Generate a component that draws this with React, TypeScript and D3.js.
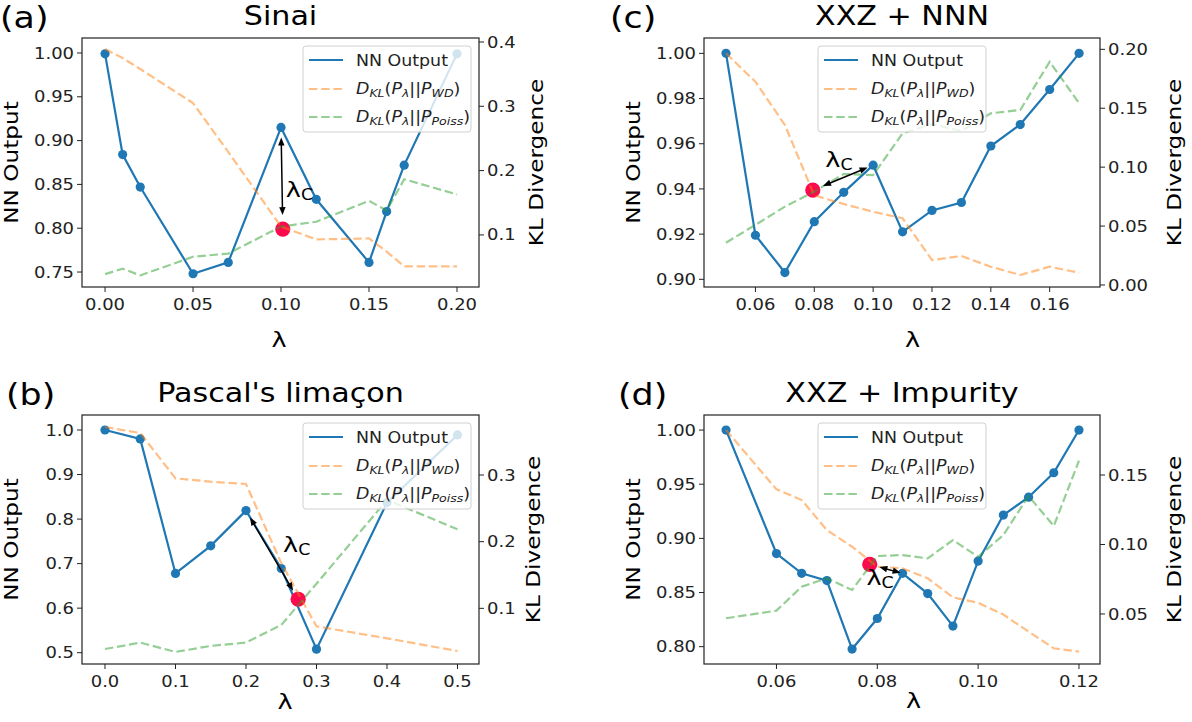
import React from 'react';
import * as d3 from 'd3';

// (a) Sinai
const sinaiLambda = [0, 0.01, 0.02, 0.05, 0.07, 0.1, 0.12, 0.15, 0.16, 0.17, 0.2];
const sinaiNN = [0.999, 0.884, 0.847, 0.748, 0.761, 0.915, 0.833, 0.761, 0.819, 0.872, 0.999];
const sinaiKLWD = [0.389, 0.375, 0.358, 0.305, 0.229, 0.113, 0.093, 0.0945, 0.074, 0.051, 0.051];
const sinaiKLPoiss = [0.039, 0.0475, 0.037, 0.066, 0.071, 0.113, 0.1205, 0.153, 0.138, 0.1865, 0.163];
const sinaiCritical = [0.101, 0.799];

// (b) Pascal's limaçon
const limaconLambda = [0, 0.05, 0.1, 0.15, 0.2, 0.25, 0.3, 0.4, 0.5];
const limaconNN = [1.0, 0.98, 0.678, 0.74, 0.819, 0.689, 0.508, 0.837, 0.989];
const limaconKLWD = [0.372, 0.363, 0.295, 0.29, 0.2865, 0.168, 0.073, 0.055, 0.036];
const limaconKLPoiss = [0.039, 0.0486, 0.0346, 0.0436, 0.0486, 0.075, 0.137, 0.2625, 0.2186];
const limaconCritical = [0.274, 0.62];

// (c) XXZ + NNN
const nnnLambda = [0.05, 0.06, 0.07, 0.08, 0.09, 0.1, 0.11, 0.12, 0.13, 0.14, 0.15, 0.16, 0.17];
const nnnNN = [1.0, 0.9195, 0.903, 0.9255, 0.9385, 0.9505, 0.921, 0.9305, 0.934, 0.959, 0.9685, 0.984, 1.0];
const nnnKLWD = [0.1966, 0.1725, 0.1358, 0.076, 0.0687, 0.0622, 0.0566, 0.0212, 0.0246, 0.0155, 0.0085, 0.0155, 0.0104];
const nnnKLPoiss = [0.0359, 0.051, 0.0665, 0.0792, 0.0942, 0.0933, 0.1287, 0.1366, 0.1307, 0.1457, 0.1485, 0.1895, 0.1542];
const nnnCritical = [0.0795, 0.9395];

// (d) XXZ + Impurity
const impLambda = [0.05, 0.06, 0.065, 0.07, 0.075, 0.08, 0.085, 0.09, 0.095, 0.1, 0.105, 0.11, 0.115, 0.12];
const impNN = [1.0, 0.886, 0.8677, 0.861, 0.7978, 0.826, 0.8677, 0.849, 0.819, 0.879, 0.9215, 0.938, 0.9606, 1.0];
const impKLWD = [0.1824, 0.1397, 0.132, 0.1104, 0.0984, 0.084, 0.0829, 0.0757, 0.062, 0.058, 0.0496, 0.0373, 0.0253, 0.0229];
const impKLPoiss = [0.0469, 0.0524, 0.0696, 0.0757, 0.0673, 0.0917, 0.0924, 0.09, 0.1032, 0.0912, 0.1068, 0.1349, 0.1133, 0.1603];
const impCritical = [0.0785, 0.876];

// tick values
const sinaiXTicks = [0, 0.05, 0.1, 0.15, 0.2];
const sinaiYTicks = [0.75, 0.8, 0.85, 0.9, 0.95, 1.0];
const sinaiY2Ticks = [0.1, 0.2, 0.3, 0.4];
const limaconXTicks = [0, 0.1, 0.2, 0.3, 0.4, 0.5];
const limaconYTicks = [0.5, 0.6, 0.7, 0.8, 0.9, 1.0];
const limaconY2Ticks = [0.1, 0.2, 0.3];
const nnnXTicks = [0.06, 0.08, 0.1, 0.12, 0.14, 0.16];
const nnnYTicks = [0.9, 0.92, 0.94, 0.96, 0.98, 1.0];
const nnnY2Ticks = [0, 0.05, 0.1, 0.15, 0.2];
const impXTicks = [0.06, 0.08, 0.1, 0.12];
const impYTicks = [0.8, 0.85, 0.9, 0.95, 1.0];
const impY2Ticks = [0.05, 0.1, 0.15];

const FONT = "'DejaVu Sans', sans-serif";
const SX = 1.16;
const BLUE = '#1f77b4';
const ORANGE = '#ff7f0e';
const GREEN = '#2ca02c';
const RED = '#fb0a4e';
const INK = '#222';
const DASH = '8.5,3.7';

function T({ x, y, size, anchor = 'start', rotate = 0, fill = '#000', children }: any) {
  return (
    <text
      transform={`translate(${x},${y}) rotate(${rotate}) scale(${SX},1)`}
      fontSize={size}
      textAnchor={anchor}
      fill={fill}
      fontFamily={FONT}
    >
      {children}
    </text>
  );
}

function KLLabel({ x, y, sub }: any) {
  const fs = 15;
  const ss = 10.8;
  return (
    <text transform={`translate(${x},${y}) scale(${SX},1)`} fontSize={fs} fontFamily={FONT} fill="#222">
      <tspan fontStyle="italic">D</tspan>
      <tspan fontStyle="italic" fontSize={ss} dy={3}>KL</tspan>
      <tspan dy={-3}>(</tspan>
      <tspan fontStyle="italic">P</tspan>
      <tspan fontStyle="italic" fontSize={ss} dy={3}>λ</tspan>
      <tspan dy={-3}>||</tspan>
      <tspan fontStyle="italic">P</tspan>
      <tspan fontStyle="italic" fontSize={ss} dy={3}>{sub}</tspan>
      <tspan dy={-3}>)</tspan>
    </text>
  );
}

function Panel(p: any) {
  const { left, top, width, height } = p;
  const x = d3.scaleLinear().domain(p.xDomain).range([left, left + width]);
  const y = d3.scaleLinear().domain(p.yDomain).range([top + height, top]);
  const y2 = d3.scaleLinear().domain(p.y2Domain).range([top + height, top]);
  const nnPath = d3.line<number>().x((_, i) => x(p.lambda[i])).y((d) => y(d))(p.nn) || '';
  const klPath = (vals: number[]) =>
    d3.line<number>().x((_, i) => x(p.lambda[i])).y((d) => y2(d))(vals) || '';
  const fx = d3.format(p.xFmt);
  const fy = d3.format(p.yFmt);
  const fy2 = d3.format(p.y2Fmt);
  const bottom = top + height;
  const right = left + width;
  const tick = 5;
  const tfs = 15.5;

  // double-headed arrow between the critical point and the chosen NN point
  const ax = x(p.critical[0]);
  const ay = y(p.critical[1]);
  const bx = x(p.lambda[p.arrowTo]);
  const by = y(p.nn[p.arrowTo]);
  const dist = Math.hypot(bx - ax, by - ay);
  const ux = (bx - ax) / dist;
  const uy = (by - ay) / dist;
  const s = [ax + ux * p.shrink[0], ay + uy * p.shrink[0]];
  const e = [bx - ux * p.shrink[1], by - uy * p.shrink[1]];
  const hl = 8;
  const hw = 3.2;
  const head = (tip: number[], dx: number, dy: number) => {
    const bxp = tip[0] - dx * hl;
    const byp = tip[1] - dy * hl;
    return `M${tip[0]},${tip[1]} L${bxp - dy * hw},${byp + dx * hw} L${bxp + dy * hw},${byp - dx * hw} Z`;
  };
  const mid = [(s[0] + e[0]) / 2, (s[1] + e[1]) / 2];

  // legend box
  const lw = 168;
  const lh = 86;
  const lx = p.legendPos === 'center' ? left + width / 2 - lw / 2 : right - 8 - lw;
  const ly = top + 8;

  return (
    <g>
      {/* titles */}
      <T x={p.letterX} y={p.letterY} size={30}>{p.letter}</T>
      <T x={left + width / 2} y={p.titleY} size={26} anchor="middle">{p.title}</T>

      {/* NN output */}
      <path d={nnPath} fill="none" stroke={BLUE} strokeWidth={2.2} />
      {p.nn.map((d: number, i: number) => (
        <circle key={i} cx={x(p.lambda[i])} cy={y(d)} r={4.6} fill={BLUE} />
      ))}
      <circle cx={ax} cy={ay} r={7.6} fill={RED} />

      {/* KL divergences on the twin axis */}
      <path d={klPath(p.klWD)} fill="none" stroke={ORANGE} strokeOpacity={0.5} strokeWidth={2.2} strokeDasharray={DASH} />
      <path d={klPath(p.klPoiss)} fill="none" stroke={GREEN} strokeOpacity={0.5} strokeWidth={2.2} strokeDasharray={DASH} />

      {/* lambda_c marker */}
      <line x1={s[0] + ux * hl * 0.8} y1={s[1] + uy * hl * 0.8} x2={e[0] - ux * hl * 0.8} y2={e[1] - uy * hl * 0.8} stroke="#000" strokeWidth={1.5} />
      <path d={head(e, ux, uy)} fill="#000" />
      <path d={head(s, -ux, -uy)} fill="#000" />
      <text
        transform={`translate(${mid[0] + p.labelOffset[0]},${mid[1] + p.labelOffset[1]}) scale(${SX},1)`}
        fontFamily={FONT}
        fontSize={22}
      >
        λ<tspan fontSize={15} dy={3}>C</tspan>
      </text>

      {/* frame */}
      <rect x={left} y={top} width={width} height={height} fill="none" stroke={INK} strokeWidth={1.2} />

      {/* x axis */}
      {p.xTicks.map((t: number) => (
        <g key={'x' + t}>
          <line x1={x(t)} x2={x(t)} y1={bottom} y2={bottom + tick} stroke={INK} />
          <T x={x(t)} y={bottom + 23} size={tfs} anchor="middle" fill={INK}>{fx(t)}</T>
        </g>
      ))}
      <T x={left + width / 2 + p.xLabelShift} y={bottom + p.xLabelGap} size={22}>λ</T>

      {/* left axis */}
      {p.yTicks.map((t: number) => (
        <g key={'y' + t}>
          <line x1={left - tick} x2={left} y1={y(t)} y2={y(t)} stroke={INK} />
          <T x={left - 8} y={y(t) + tfs * 0.36} size={tfs} anchor="end" fill={INK}>{fy(t)}</T>
        </g>
      ))}
      <T x={left - 64} y={top + height / 2} size={20} anchor="middle" rotate={-90}>NN Output</T>

      {/* right axis */}
      {p.y2Ticks.map((t: number) => (
        <g key={'y2' + t}>
          <line x1={right} x2={right + tick} y1={y2(t)} y2={y2(t)} stroke={INK} />
          <T x={right + 8} y={y2(t) + tfs * 0.36} size={tfs} fill={INK}>{fy2(t)}</T>
        </g>
      ))}
      <T x={right + p.y2LabelGap} y={top + height / 2} size={20} anchor="middle" rotate={-90}>KL Divergence</T>

      {/* legend */}
      <rect x={lx} y={ly} width={lw} height={lh} rx={3} fill="#fff" fillOpacity={0.8} stroke="#d0d0d0" strokeWidth={1} />
      <line x1={lx + 6} x2={lx + 40} y1={ly + 14} y2={ly + 14} stroke={BLUE} strokeWidth={2.2} />
      <T x={lx + 53} y={ly + 19.5} size={15} fill="#222">NN Output</T>
      <line x1={lx + 6} x2={lx + 40} y1={ly + 43} y2={ly + 43} stroke={ORANGE} strokeOpacity={0.5} strokeWidth={2.2} strokeDasharray={DASH} />
      <KLLabel x={lx + 53} y={ly + 47.5} sub="WD" />
      <line x1={lx + 6} x2={lx + 40} y1={ly + 71} y2={ly + 71} stroke={GREEN} strokeOpacity={0.5} strokeWidth={2.2} strokeDasharray={DASH} />
      <KLLabel x={lx + 53} y={ly + 75.5} sub="Poiss" />
    </g>
  );
}

export default function App() {
  return (
    <svg
      width={1192}
      height={722}
      style={{ position: 'absolute', left: 0, top: 0, background: '#fff' }}
    >
      <Panel
        left={82} top={38} width={397} height={249}
        xDomain={[-0.0131, 0.2125]} yDomain={[0.7329, 1.0171]} y2Domain={[0.019, 0.4062]}
        lambda={sinaiLambda} nn={sinaiNN} klWD={sinaiKLWD} klPoiss={sinaiKLPoiss}
        critical={sinaiCritical} arrowTo={5} shrink={[14, 10]} labelOffset={[4, 20.5]}
        xTicks={sinaiXTicks} xFmt=".2f" yTicks={sinaiYTicks} yFmt=".2f" y2Ticks={sinaiY2Ticks} y2Fmt=".1f"
        title="Sinai" titleY={25} letter="(a)" letterX={0} letterY={27.5}
        legendPos="right" xLabelShift={-9} xLabelGap={60} y2LabelGap={64}
      />
      <Panel
        left={82} top={415} width={397} height={249}
        xDomain={[-0.0326, 0.5305]} yDomain={[0.4746, 1.0337]} y2Domain={[0.0165, 0.39]}
        lambda={limaconLambda} nn={limaconNN} klWD={limaconKLWD} klPoiss={limaconKLPoiss}
        critical={limaconCritical} arrowTo={4} shrink={[10, 8]} labelOffset={[11.5, -2.3]}
        xTicks={limaconXTicks} xFmt=".1f" yTicks={limaconYTicks} yFmt=".1f" y2Ticks={limaconY2Ticks} y2Fmt=".1f"
        title="Pascal's limaçon" titleY={402} letter="(b)" letterX={6} letterY={405}
        legendPos="right" xLabelShift={-3} xLabelGap={45} y2LabelGap={61}
      />
      <Panel
        left={704} top={38} width={396} height={249}
        xDomain={[0.04252, 0.1771]} yDomain={[0.8966, 1.0068]} y2Domain={[-0.0017, 0.2096]}
        lambda={nnnLambda} nn={nnnNN} klWD={nnnKLWD} klPoiss={nnnKLPoiss}
        critical={nnnCritical} arrowTo={5} shrink={[11, 6]} labelOffset={[-20, -9.3]}
        xTicks={nnnXTicks} xFmt=".2f" yTicks={nnnYTicks} yFmt=".2f" y2Ticks={nnnY2Ticks} y2Fmt=".2f"
        title="XXZ + NNN" titleY={25} letter="(c)" letterX={610} letterY={27.5}
        legendPos="center" xLabelShift={3} xLabelGap={60} y2LabelGap={81}
      />
      <Panel
        left={704} top={415} width={396} height={249}
        xDomain={[0.04563, 0.12417]} yDomain={[0.784, 1.0139]} y2Domain={[0.014, 0.1932]}
        lambda={impLambda} nn={impNN} klWD={impKLWD} klPoiss={impKLPoiss}
        critical={impCritical} arrowTo={6} shrink={[10, 2]} labelOffset={[-23.6, 15]}
        xTicks={impXTicks} xFmt=".2f" yTicks={impYTicks} yFmt=".2f" y2Ticks={impY2Ticks} y2Fmt=".2f"
        title="XXZ + Impurity" titleY={402} letter="(d)" letterX={618} letterY={405}
        legendPos="center" xLabelShift={4} xLabelGap={44} y2LabelGap={81}
      />
    </svg>
  );
}
